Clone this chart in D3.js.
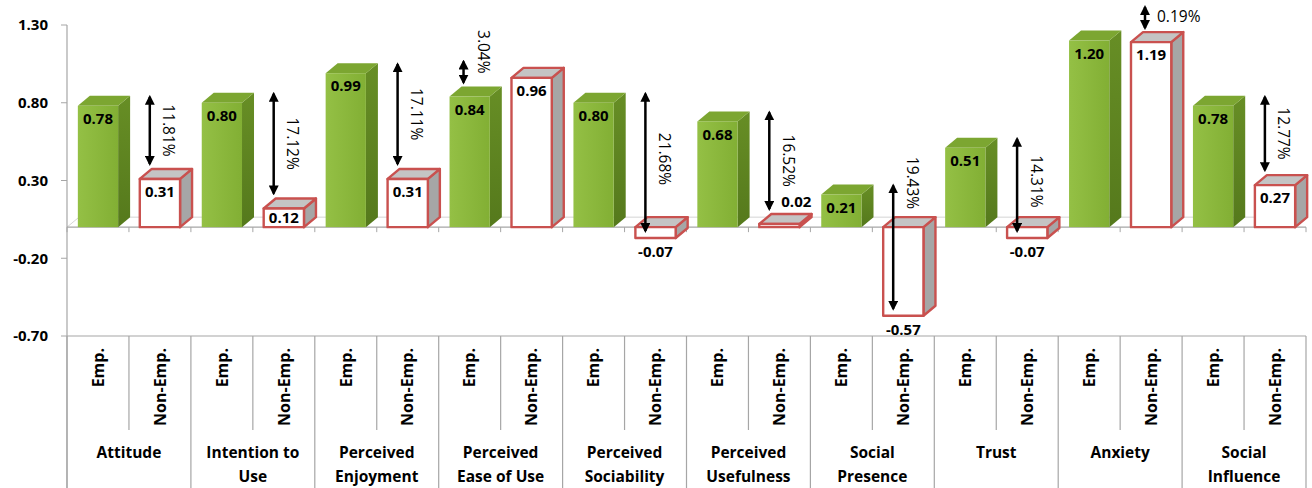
<!DOCTYPE html>
<html>
<head>
<meta charset="utf-8">
<script src="https://cdn.jsdelivr.net/npm/d3@7"></script>
<style>
  body { margin: 0; background: #fff; }
  text { font-family: "Open Sans", Lato, sans-serif; fill: #000; }
</style>
</head>
<body>
<svg width="1312" height="488"></svg>
<script>
(function () {
    'use strict';

    // data
    const categories = [
        ['Attitude'], ['Intention to', 'Use'], ['Perceived', 'Enjoyment'],
        ['Perceived', 'Ease of Use'], ['Perceived', 'Sociability'], ['Perceived', 'Usefulness'],
        ['Social', 'Presence'], ['Trust'], ['Anxiety'], ['Social', 'Influence']
    ];
    const groups = ['Emp.', 'Non-Emp.'];
    const empValues = [0.78, 0.80, 0.99, 0.84, 0.80, 0.68, 0.21, 0.51, 1.20, 0.78];
    const nonEmpValues = [0.31, 0.12, 0.31, 0.96, -0.07, 0.02, -0.57, -0.07, 1.19, 0.27];
    const diffLabels = ['11.81%', '17.12%', '17.11%', '3.04%', '21.68%', '16.52%', '19.43%', '14.31%', '0.19%', '12.77%'];
    const yTicks = [-0.70, -0.20, 0.30, 0.80, 1.30];

    const svg = d3.select('svg');
    const left = 67, right = 1306, top = 25, axisBottom = 336, bottom = 488;
    const fmt = v => v.toFixed(2);   // plain hyphen minus like the original

    const y = d3.scaleLinear().domain([-0.7, 1.3]).range([axisBottom, top]);
    const x0 = d3.scaleBand().domain(d3.range(categories.length)).range([left, right]);
    const x1 = d3.scaleBand().domain(groups).range([0, x0.bandwidth()]);

    const y0 = y(0);
    const dx = 12, dy = 10;            // 3d depth
    const barW = x1.bandwidth() * 0.65;
    const barOff = x1.bandwidth() * 0.175;

    const defs = svg.append('defs');
    const gFront = defs.append('linearGradient').attr('id', 'gFront')
        .attr('x1', 0).attr('x2', 1).attr('y1', 0).attr('y2', 0);
    gFront.append('stop').attr('offset', '0%').attr('stop-color', '#94c045');
    gFront.append('stop').attr('offset', '100%').attr('stop-color', '#82af34');
    const gSide = defs.append('linearGradient').attr('id', 'gSide')
        .attr('x1', 0).attr('x2', 0).attr('y1', 0).attr('y2', 1);
    gSide.append('stop').attr('offset', '0%').attr('stop-color', '#678e25');
    gSide.append('stop').attr('offset', '100%').attr('stop-color', '#55791c');

    const mk = defs.append('marker').attr('id', 'head')
        .attr('viewBox', '0 0 10 10').attr('refX', 8).attr('refY', 5)
        .attr('markerWidth', 4).attr('markerHeight', 4)
        .attr('markerUnits', 'strokeWidth').attr('orient', 'auto-start-reverse');
    mk.append('path').attr('d', 'M0,0 L10,5 L0,10 Z').attr('fill', '#000');

    // floor back edge
    svg.append('path')
        .attr('d', `M${left},${y0} L${left + dx},${y0 - dy} L${right},${y0 - dy}`)
        .attr('fill', 'none').attr('stroke', '#d4d4d4').attr('stroke-width', 1);

    // y axis
    svg.append('line').attr('x1', left).attr('x2', left).attr('y1', top).attr('y2', bottom)
        .attr('stroke', '#a6a6a6').attr('stroke-width', 1.2);
    svg.selectAll('.ytick').data(yTicks).join('line')
        .attr('x1', left - 6).attr('x2', left).attr('y1', d => y(d)).attr('y2', d => y(d))
        .attr('stroke', '#a6a6a6');
    svg.selectAll('.ylab').data(yTicks).join('text')
        .attr('x', 48).attr('y', d => y(d)).attr('dy', '0.35em')
        .attr('text-anchor', 'end').attr('font-weight', 'bold').attr('font-size', 15)
        .text(fmt);

    // category axis at zero
    svg.append('line').attr('x1', left).attr('x2', right).attr('y1', y0).attr('y2', y0)
        .attr('stroke', '#a6a6a6').attr('stroke-width', 1.2);
    const subEdges = [];
    categories.forEach((c, i) => groups.forEach(g => subEdges.push(x0(i) + x1(g))));
    subEdges.push(right);
    svg.selectAll('.xtick').data(subEdges).join('line')
        .attr('x1', d => d).attr('x2', d => d).attr('y1', y0).attr('y2', y0 + 5)
        .attr('stroke', '#a6a6a6');

    // table under the plot
    svg.append('line').attr('x1', left).attr('x2', right).attr('y1', axisBottom).attr('y2', axisBottom)
        .attr('stroke', '#a6a6a6').attr('stroke-width', 1.2);
    svg.selectAll('.cborder').data(d3.range(categories.length + 1)).join('line')
        .attr('x1', i => i < categories.length ? x0(i) : right)
        .attr('x2', i => i < categories.length ? x0(i) : right)
        .attr('y1', axisBottom).attr('y2', bottom)
        .attr('stroke', '#a6a6a6').attr('stroke-width', 1.2);
    svg.selectAll('.sborder').data(d3.range(categories.length)).join('line')
        .attr('x1', i => x0(i) + x1(groups[1])).attr('x2', i => x0(i) + x1(groups[1]))
        .attr('y1', axisBottom).attr('y2', 430)
        .attr('stroke', '#a6a6a6').attr('stroke-width', 1.2);

    categories.forEach((c, i) => {
        groups.forEach(g => {
            const cx = x0(i) + x1(g) + x1.bandwidth() / 2;
            svg.append('text')
                .attr('transform', `translate(${cx},348) rotate(-90)`)
                .attr('dy', '0.36em').attr('text-anchor', 'end')
                .attr('font-weight', 'bold').attr('font-size', 16)
                .text(g);
        });
        const t = svg.append('text').attr('x', x0(i) + x0.bandwidth() / 2)
            .attr('text-anchor', 'middle').attr('font-weight', 'bold').attr('font-size', 15.5);
        c.forEach((line, k) => {
            t.append('tspan').attr('x', x0(i) + x0.bandwidth() / 2)
                .attr('y', 453 + k * 24).attr('dy', '0.35em').text(line);
        });
    });

    // bars
    const bars = [];
    categories.forEach((c, i) => {
        bars.push({ i, g: groups[0], v: empValues[i] });
        bars.push({ i, g: groups[1], v: nonEmpValues[i] });
    });

    const barG = svg.append('g');
    bars.forEach(b => {
        const bx = x0(b.i) + x1(b.g) + barOff;
        const yt = Math.min(y(b.v), y0);
        const h = Math.abs(y(b.v) - y0);
        const emp = b.g === groups[0];
        const stroke = emp ? 'none' : '#c9514f';
        const sw = emp ? 0 : 2.4;
        const g = barG.append('g').attr('stroke-linejoin', 'round');
        g.append('path')
            .attr('d', `M${bx + barW},${yt} L${bx + barW + dx},${yt - dy} L${bx + barW + dx},${yt + h - dy} L${bx + barW},${yt + h} Z`)
            .attr('fill', emp ? 'url(#gSide)' : '#a6a6a6').attr('stroke', stroke).attr('stroke-width', sw);
        g.append('path')
            .attr('d', `M${bx},${yt} L${bx + dx},${yt - dy} L${bx + barW + dx},${yt - dy} L${bx + barW},${yt} Z`)
            .attr('fill', emp ? '#7ca631' : '#c4c4c4').attr('stroke', stroke).attr('stroke-width', sw);
        g.append('rect')
            .attr('x', bx).attr('y', yt).attr('width', barW).attr('height', h)
            .attr('fill', emp ? 'url(#gFront)' : '#fff').attr('stroke', stroke).attr('stroke-width', sw);

        const lab = barG.append('text').attr('font-weight', 'bold').attr('font-size', 15)
            .attr('dy', '0.35em').text(fmt(b.v));
        if (b.v < 0) {
            lab.attr('x', bx + barW / 2).attr('y', y(b.v) + 14).attr('text-anchor', 'middle');
        } else if (h < 8) {
            lab.attr('x', bx + 22).attr('y', y(b.v) - dy - 12).attr('text-anchor', 'start');
        } else {
            lab.attr('x', bx + barW / 2).attr('y', y(b.v) + Math.min(13, h / 2)).attr('text-anchor', 'middle');
        }
    });

    // difference arrows
    const arrowG = svg.append('g');
    categories.forEach((c, i) => {
        const e = empValues[i], n = nonEmpValues[i];
        const nx = x0(i) + x1(groups[1]) + barOff;
        const small = Math.abs(y(e) - y(n)) < 25;
        let ax, a1, a2;
        if (small) {
            // small gap: short arrow above the lower bar
            const lowG = e < n ? groups[0] : groups[1];
            ax = x0(i) + x1(lowG) + barOff + 14;
            a2 = y(Math.min(e, n)) - dy - 1;
            a1 = a2 - 27;
        } else {
            ax = nx + 10;
            a1 = y(e) - dy - 2;
            a2 = n >= 0 ? y(n) - dy - 2 : y(n) - 4;
        }
        arrowG.append('line').attr('x1', ax).attr('x2', ax).attr('y1', a1 + 3).attr('y2', a2 - 3)
            .attr('stroke', '#000').attr('stroke-width', 2.5)
            .attr('marker-start', 'url(#head)').attr('marker-end', 'url(#head)');

        const lab = arrowG.append('text').attr('font-size', 15.5).text(diffLabels[i]);
        const len = lab.node().getComputedTextLength();
        if (a1 < 30) {
            lab.attr('x', ax + 12).attr('y', a1 + 12).attr('dy', '0.35em');
        } else if (small) {
            lab.attr('transform', `translate(${ax + 20},${a2 - 12}) rotate(90)`)
                .attr('dy', '0.35em').attr('text-anchor', 'end');
        } else {
            // keep the label clear of the bar tops near the floor
            const mid = Math.min((a1 + Math.min(a2, y0)) / 2, y0 - 18 - len / 2);
            lab.attr('transform', `translate(${ax + 19},${mid}) rotate(90)`)
                .attr('dy', '0.35em').attr('text-anchor', 'middle');
        }
    });
}());
</script>
</body>
</html>
